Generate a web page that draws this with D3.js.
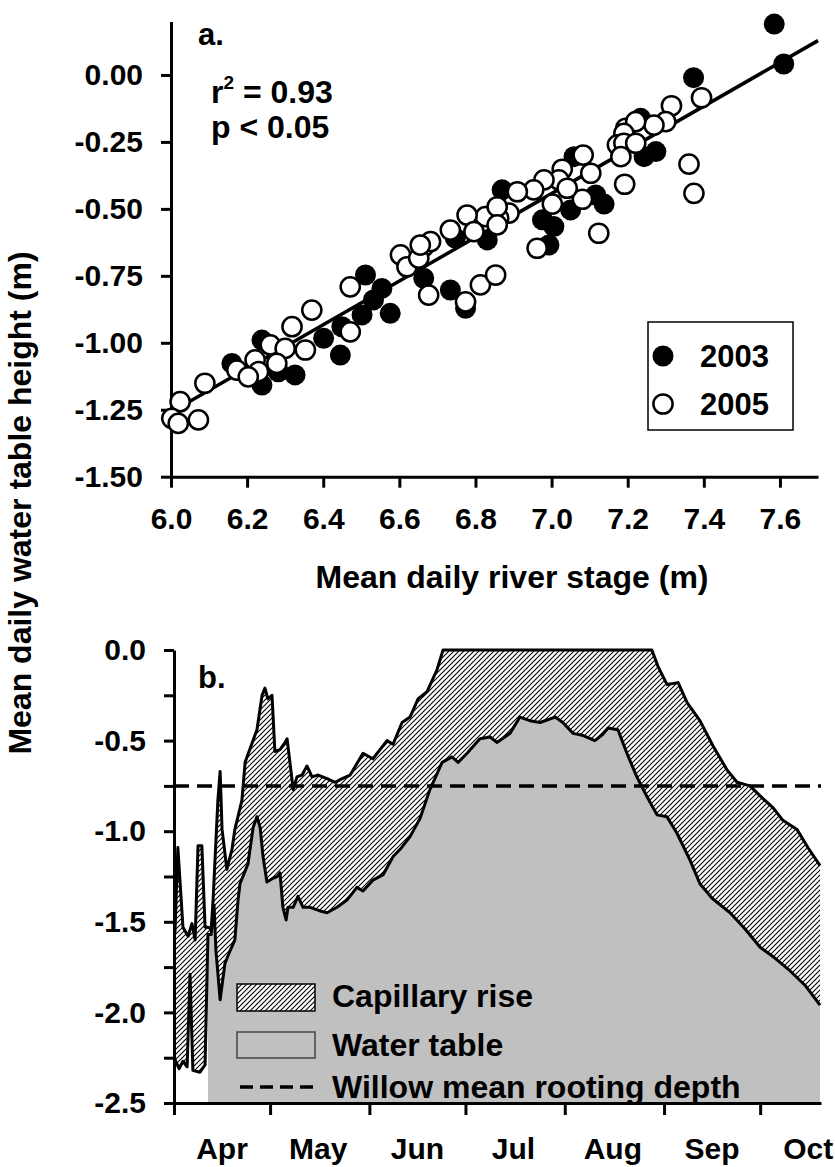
<!DOCTYPE html>
<html>
<head>
<meta charset="utf-8">
<script src="https://cdn.jsdelivr.net/npm/d3@7"></script>
<style>
  body { margin: 0; background: #fff; }
  svg { display: block; font-family: "Liberation Sans", Arial, sans-serif; font-weight: bold; }
  .axis path, .axis line { stroke: #000; stroke-width: 3; }
  .axis text { font-size: 30px; font-weight: bold; fill: #000; font-family: "Liberation Sans", Arial, sans-serif; }
</style>
</head>
<body>
<svg id="chart" width="835" height="1167"></svg>
<script>
// ---- panel a : water table height vs river stage ----
const stage2003 = [7.585, 7.610, 7.373, 7.234, 7.243, 7.274, 7.138, 7.116, 7.059, 7.050, 7.006, 6.976, 6.870, 6.831, 6.993,
    6.664, 6.734, 6.774, 6.511, 6.554, 6.532, 6.502, 6.576, 6.449, 6.401, 6.445, 6.239, 6.326, 6.282, 6.239, 6.160, 6.747];
const height2003 = [0.190, 0.041, -0.010, -0.162, -0.305, -0.286, -0.482, -0.448, -0.305, -0.504, -0.566, -0.541, -0.429, -0.616, -0.635,
    -0.759, -0.803, -0.871, -0.747, -0.797, -0.840, -0.896, -0.890, -0.940, -0.983, -1.046, -0.990, -1.120, -1.108, -1.158, -1.077, -0.609];

const stage2005 = [7.394, 7.315, 7.300, 7.269, 7.195, 7.221, 7.190, 7.173, 7.190, 7.221, 7.182, 7.361, 7.374, 7.192, 7.083, 7.103,
    7.028, 7.019, 6.980, 6.953, 7.002, 7.081, 6.910, 6.888, 6.861, 6.826, 7.124, 6.962, 7.041, 6.778, 6.857, 6.664,
    6.471, 6.370, 6.318, 6.353, 6.471, 6.261, 6.300, 6.278, 6.221, 6.230, 6.173, 6.203, 6.089, 6.024, 6.002, 6.019, 6.072,
    6.603, 6.620, 6.651, 6.682, 6.734, 6.796, 6.857, 6.677, 6.774, 6.813, 6.853, 6.655];
const height2005 = [-0.085, -0.115, -0.174, -0.187, -0.199, -0.174, -0.218, -0.261, -0.255, -0.255, -0.305, -0.333, -0.442, -0.408, -0.299, -0.367,
    -0.352, -0.392, -0.392, -0.429, -0.482, -0.464, -0.436, -0.516, -0.535, -0.529, -0.591, -0.647, -0.423, -0.523, -0.492, -0.641,
    -0.791, -0.878, -0.940, -1.027, -0.959, -1.008, -1.021, -1.077, -1.064, -1.108, -1.102, -1.127, -1.151, -1.220, -1.282, -1.301, -1.288,
    -0.672, -0.716, -0.684, -0.622, -0.579, -0.585, -0.560, -0.822, -0.847, -0.784, -0.747, -0.635];

const fitSlope = 0.816, fitIntercept = -6.155;
const stageTicks = [6.0, 6.2, 6.4, 6.6, 6.8, 7.0, 7.2, 7.4, 7.6];
const heightTicks = [0, -0.25, -0.5, -0.75, -1.0, -1.25, -1.5];

// ---- panel b : seasonal water table + capillary rise (days after 1 April) ----
const capillaryDay = [0.3, 1.2, 2.8, 4.4, 5.6, 6.6, 7.5, 8.7, 9.7, 10.6, 11.6, 12.2, 13.7, 14.4, 15.0, 16.5, 18.1, 19.0, 21.2, 22.2,
    25.9, 27.5, 28.4, 29.3, 30.6, 31.5, 33.1, 34.7, 35.3, 36.2, 37.2, 38.4, 40.0, 41.5, 43.1, 45.0, 47.8, 50.3, 52.5, 55.0,
    59.0, 62.1, 66.5, 68.4, 71.2, 73.7, 76.2, 79.0, 82.1, 84.0, 149.2, 151.1, 153.9, 157.4, 160.2, 164.2, 168.3, 172.6, 175.8, 179.8,
    183.9, 187.0, 190.1, 194.5, 197.9, 201.7];
const capillaryDepth = [-1.56, -1.09, -1.53, -1.58, -1.51, -1.60, -1.08, -1.08, -1.53, -1.53, -1.54, -1.38, -0.83, -0.67, -0.99, -1.21, -1.10, -0.99, -0.83, -0.62,
    -0.44, -0.25, -0.21, -0.27, -0.25, -0.56, -0.55, -0.51, -0.49, -0.62, -0.77, -0.70, -0.69, -0.64, -0.70, -0.69, -0.71, -0.73, -0.71, -0.69,
    -0.57, -0.60, -0.50, -0.52, -0.40, -0.37, -0.27, -0.23, -0.11, 0, 0, -0.09, -0.19, -0.18, -0.29, -0.39, -0.53, -0.66, -0.73, -0.75,
    -0.82, -0.87, -0.94, -0.99, -1.09, -1.19];

const tableDay = [0.3, 1.6, 2.8, 4.1, 5.0, 5.9, 8.1, 9.7, 10.6, 11.6, 12.5, 13.1, 14.4, 15.9, 17.5, 19.0, 20.0, 20.6, 23.1, 24.7,
    25.9, 26.9, 27.8, 29.0, 30.9, 32.2, 33.1, 34.0, 35.0, 35.6, 37.2, 38.7, 40.3, 42.5, 45.6, 47.8, 50.9, 54.0, 57.1, 59.0,
    62.1, 65.3, 68.4, 70.6, 73.7, 76.8, 79.9, 83.7, 86.8, 88.7, 91.5, 95.5, 98.7, 100.8, 104.9, 108.0, 111.1, 114.3, 119.0, 121.4,
    124.6, 127.4, 131.4, 133.6, 135.5, 138.6, 141.4, 144.5, 147.7, 150.8, 153.9, 157.0, 161.1, 164.2, 168.0, 173.6, 178.3, 183.0, 187.6, 192.3,
    197.0, 201.7];
const tableDepth = [-2.26, -2.31, -2.27, -2.30, -1.79, -2.32, -2.33, -2.29, -1.57, -1.57, -1.41, -1.66, -1.93, -1.73, -1.66, -1.60, -1.38, -1.29, -1.18, -0.98,
    -0.92, -0.98, -1.14, -1.28, -1.26, -1.25, -1.23, -1.42, -1.49, -1.42, -1.42, -1.36, -1.42, -1.42, -1.44, -1.45, -1.42, -1.38, -1.31, -1.33,
    -1.27, -1.24, -1.14, -1.10, -1.03, -0.93, -0.77, -0.62, -0.59, -0.62, -0.57, -0.49, -0.48, -0.51, -0.46, -0.37, -0.39, -0.40, -0.37, -0.40,
    -0.46, -0.47, -0.50, -0.47, -0.43, -0.44, -0.57, -0.70, -0.81, -0.91, -0.92, -1.01, -1.16, -1.29, -1.37, -1.45, -1.54, -1.64, -1.70, -1.77,
    -1.85, -1.96];

const grayFromDay = 10.6;            // shaded water table starts here
const rootingDepth = -0.75;
const monthNames = ['Apr', 'May', 'Jun', 'Jul', 'Aug', 'Sep', 'Oct'];
const depthTicks = [0, -0.25, -0.5, -0.75, -1.0, -1.25, -1.5, -1.75, -2.0, -2.25, -2.5];

const seasonStart = new Date(2005, 3, 1);
const seasonEnd = new Date(2005, 9, 20);
const dayToDate = (d) => new Date(seasonStart.getTime() + d * 864e5);

const svg = d3.select('#chart');

// hatch pattern
const defs = svg.append('defs');
const pat = defs.append('pattern')
    .attr('id', 'hatch')
    .attr('patternUnits', 'userSpaceOnUse')
    .attr('width', 5).attr('height', 5);
pat.append('rect').attr('width', 5).attr('height', 5).attr('fill', '#fff');
pat.append('path')
    .attr('d', 'M-1,1 l2,-2 M0,5 l5,-5 M4,6 l2,-2')
    .attr('stroke', '#000').attr('stroke-width', 1.1);

// ================= panel a =================
const xA = d3.scaleLinear().domain([6.0, 7.7]).range([171, 818]);
const yA = d3.scaleLinear().domain([-1.5, 0.2]).range([476.7, 21.4]);

const gA = svg.append('g');

gA.append('g')
    .attr('class', 'axis')
    .attr('transform', 'translate(0,' + yA(-1.5) + ')')
    .call(d3.axisBottom(xA).tickValues(stageTicks).tickFormat((d) => d.toFixed(1))
        .tickSize(11).tickSizeOuter(0).tickPadding(20));

gA.append('g')
    .attr('class', 'axis')
    .attr('transform', 'translate(' + xA(6.0) + ',0)')
    .call(d3.axisLeft(yA).tickValues(heightTicks).tickFormat((d) => d.toFixed(2))
        .tickSize(10).tickSizeOuter(0).tickPadding(18));

// regression line
const fitX = [d3.min(stage2005.concat(stage2003)), 7.7];
gA.append('line')
    .attr('x1', xA(fitX[0])).attr('y1', yA(fitSlope * fitX[0] + fitIntercept))
    .attr('x2', xA(fitX[1])).attr('y2', yA(fitSlope * fitX[1] + fitIntercept))
    .attr('stroke', '#000').attr('stroke-width', 3.5);

gA.selectAll('circle.y2003')
    .data(d3.zip(stage2003, height2003))
    .enter().append('circle')
    .attr('class', 'y2003')
    .attr('cx', (d) => xA(d[0]))
    .attr('cy', (d) => yA(d[1]))
    .attr('r', 10.5)
    .attr('fill', '#000');

gA.selectAll('circle.y2005')
    .data(d3.zip(stage2005, height2005))
    .enter().append('circle')
    .attr('class', 'y2005')
    .attr('cx', (d) => xA(d[0]))
    .attr('cy', (d) => yA(d[1]))
    .attr('r', 9.6)
    .attr('fill', '#fff')
    .attr('stroke', '#000')
    .attr('stroke-width', 2.5);

// labels
gA.append('text').attr('x', 198).attr('y', 45).attr('font-size', 31).text('a.');
const r2 = gA.append('text').attr('x', 211).attr('y', 103).attr('font-size', 32);
r2.append('tspan').text('r');
r2.append('tspan').attr('dy', -14).attr('font-size', 19).text('2');
r2.append('tspan').attr('dy', 14).text(' = 0.93');
gA.append('text').attr('x', 211).attr('y', 138).attr('font-size', 32).text('p < 0.05');

gA.append('text')
    .attr('x', 512).attr('y', 588)
    .attr('text-anchor', 'middle')
    .attr('font-size', 32)
    .text('Mean daily river stage (m)');

// legend a
const legA = gA.append('g').attr('transform', 'translate(648,322)');
legA.append('rect').attr('width', 145).attr('height', 108)
    .attr('fill', '#fff').attr('stroke', '#000').attr('stroke-width', 1.5);
legA.append('circle').attr('cx', 15).attr('cy', 34).attr('r', 10.5).attr('fill', '#000');
legA.append('circle').attr('cx', 15).attr('cy', 82).attr('r', 9.6)
    .attr('fill', '#fff').attr('stroke', '#000').attr('stroke-width', 2.5);
legA.append('text').attr('x', 52).attr('y', 45).attr('font-size', 31).text('2003');
legA.append('text').attr('x', 52).attr('y', 93).attr('font-size', 31).text('2005');

// shared y title
svg.append('text')
    .attr('transform', 'translate(31,503) rotate(-90)')
    .attr('text-anchor', 'middle')
    .attr('font-size', 32)
    .text('Mean daily water table height (m)');

// ================= panel b =================
const xB = d3.scaleTime().domain([seasonStart, seasonEnd]).range([174, 821]);
const yB = d3.scaleLinear().domain([-2.5, 0]).range([1103, 650]);

const gB = svg.append('g');

const capPts = capillaryDay.map((d, i) => [xB(dayToDate(d)), yB(capillaryDepth[i])]);
const tablePts = tableDay.map((d, i) => [xB(dayToDate(d)), yB(tableDepth[i])]);

// grey water table area
const grayData = tableDay.map((d, i) => ({ day: d, v: tableDepth[i] })).filter((p) => p.day >= grayFromDay);
gB.append('path')
    .attr('d', d3.area()
        .x((p) => xB(dayToDate(p.day)))
        .y0(yB(-2.5))
        .y1((p) => yB(p.v))(grayData))
    .attr('fill', '#c0c0c0');

// hatched capillary band between the two lines
const line = d3.line();
const band = line(capPts) + line(tablePts.slice().reverse()).replace(/^M/, 'L') + 'Z';
gB.append('path').attr('d', band).attr('fill', 'url(#hatch)');

gB.append('path').attr('d', line(tablePts))
    .attr('fill', 'none').attr('stroke', '#000').attr('stroke-width', 3).attr('stroke-linejoin', 'round');
gB.append('path').attr('d', line(capPts))
    .attr('fill', 'none').attr('stroke', '#000').attr('stroke-width', 3).attr('stroke-linejoin', 'round');

// rooting depth
gB.append('line')
    .attr('x1', xB(seasonStart)).attr('x2', xB(seasonEnd))
    .attr('y1', yB(rootingDepth)).attr('y2', yB(rootingDepth))
    .attr('stroke', '#000').attr('stroke-width', 3.5).attr('stroke-dasharray', '15,8');

// axes b
const monthStarts = monthNames.map((m, i) => new Date(2005, 3 + i, 1));
const xAxisB = gB.append('g')
    .attr('class', 'axis')
    .attr('transform', 'translate(0,' + yB(-2.5) + ')')
    .call(d3.axisBottom(xB).tickValues(monthStarts).tickFormat('').tickSize(12).tickSizeOuter(0));
xAxisB.selectAll('.month')
    .data(monthStarts)
    .enter().append('text')
    .attr('class', 'month')
    .attr('x', (d) => xB(new Date(d.getFullYear(), d.getMonth(), 16)))
    .attr('y', 56)
    .attr('text-anchor', 'middle')
    .text((d, i) => monthNames[i]);

gB.append('g')
    .attr('class', 'axis')
    .attr('transform', 'translate(' + xB(seasonStart) + ',0)')
    .call(d3.axisLeft(yB).tickValues(depthTicks)
        .tickFormat((d) => (Math.round(d * 100) % 50 === 0 ? d.toFixed(1) : ''))
        .tickSize(10).tickSizeOuter(0).tickPadding(18));

gB.append('text').attr('x', 198).attr('y', 688).attr('font-size', 31).text('b.');

// legend b
const legB = gB.append('g').attr('transform', 'translate(237,984)');
legB.append('rect').attr('width', 78).attr('height', 27)
    .attr('fill', 'url(#hatch)').attr('stroke', '#000').attr('stroke-width', 1.5);
legB.append('text').attr('x', 95).attr('y', 23).attr('font-size', 32).text('Capillary rise');
legB.append('rect').attr('y', 48).attr('width', 78).attr('height', 26)
    .attr('fill', '#c0c0c0').attr('stroke', '#444').attr('stroke-width', 1.5);
legB.append('text').attr('x', 95).attr('y', 72).attr('font-size', 32).text('Water table');
legB.append('line').attr('x1', 3).attr('x2', 76).attr('y1', 103).attr('y2', 103)
    .attr('stroke', '#000').attr('stroke-width', 3.5).attr('stroke-dasharray', '13,7');
legB.append('text').attr('x', 95).attr('y', 114).attr('font-size', 32).text('Willow mean rooting depth');
</script>
</body>
</html>
